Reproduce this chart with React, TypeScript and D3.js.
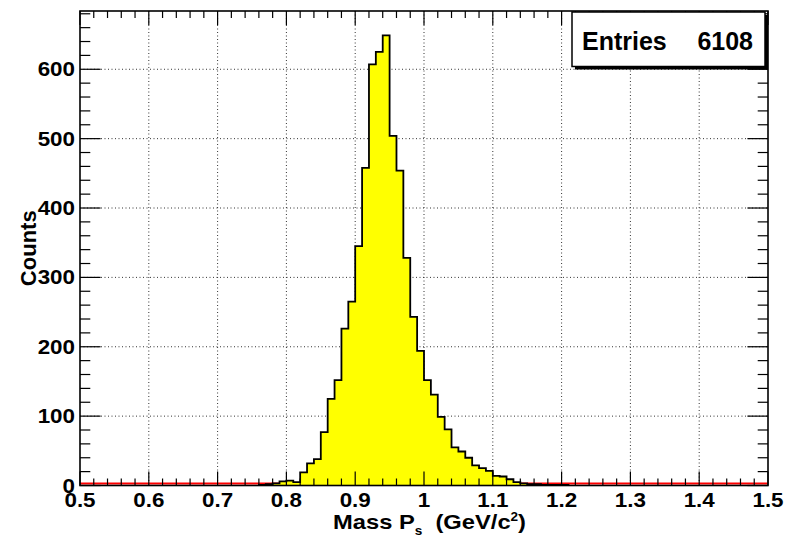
import React from "react";
import * as d3 from "d3";

// Histogram of reconstructed P_s mass, 0.01 GeV/c^2 bins
const firstBinLow = 0.76;
const binWidth = 0.01;
const counts = [
  1, 2, 3, 6, 7, 5, 19, 32, 38, 77,
  125, 152, 226, 265, 345, 458, 607, 625, 649, 504,
  454, 328, 243, 194, 152, 131, 99, 81, 55, 49,
  40, 29, 25, 21, 14, 13, 9, 5, 3, 2,
  2, 1, 1, 1, 1,
];
const entries = 6108;

const xTickValues = [0.5, 0.6, 0.7, 0.8, 0.9, 1.0, 1.1, 1.2, 1.3, 1.4, 1.5];
const yTickValues = [0, 100, 200, 300, 400, 500, 600];

const W = 796;
const H = 539;
const frame = { left: 80, right: 768, top: 11, bottom: 485.5 };
const xDomain: [number, number] = [0.5, 1.5];
const yDomain: [number, number] = [0, 684];

const font = "'Liberation Sans', Arial, Helvetica, sans-serif";
// axis text is rendered slightly wide
const wide = 1.12;

export default function App() {
  const x = d3.scaleLinear().domain(xDomain).range([frame.left, frame.right]);
  const y = d3.scaleLinear().domain(yDomain).range([frame.bottom, frame.top]);

  const pts: [number, number][] = counts.map((c, i) => [firstBinLow + i * binWidth, c]);
  const lastHi = firstBinLow + counts.length * binWidth;
  const stepPts: [number, number][] = [
    ...pts,
    [lastHi, counts[counts.length - 1]],
  ];

  const area = d3
    .area<[number, number]>()
    .x((d) => x(d[0]))
    .y0(y(0))
    .y1((d) => y(d[1]))
    .curve(d3.curveStepAfter);

  const outline = d3
    .line<[number, number]>()
    .x((d) => x(d[0]))
    .y((d) => y(d[1]))
    .curve(d3.curveStepAfter);

  const outlinePts: [number, number][] = [
    [firstBinLow, 0],
    ...stepPts,
    [lastHi, 0],
  ];

  const xMinor = d3.range(0, 51).map((i) => 0.5 + i * 0.02);
  const yMinor = d3.range(0, 35).map((i) => i * 20);

  const xMajLen = 14;
  const xMinLen = 7;
  const yMajLen = 20.6;
  const yMinLen = 10.3;

  const fmtX = (v: number) => String(+v.toFixed(1));

  const gridX = xTickValues.filter((v) => v > xDomain[0] && v < xDomain[1]);
  const gridY = yTickValues.filter((v) => v > 0);

  // stats box geometry
  const box = { x: 572, y: 12, w: 193, h: 54.5 };

  return (
    <svg width={W} height={H} style={{ position: "absolute", left: 0, top: 0 }}>
      <rect x={0} y={0} width={W} height={H} fill="#fff" />

      {/* grid */}
      <g stroke="#333" strokeWidth={1} strokeDasharray="1,2.5">
        {gridX.map((v) => (
          <line key={"gx" + v} x1={x(v)} x2={x(v)} y1={frame.top} y2={frame.bottom} />
        ))}
        {gridY.map((v) => (
          <line key={"gy" + v} x1={frame.left} x2={frame.right} y1={y(v)} y2={y(v)} />
        ))}
      </g>

      {/* zero level */}
      <line
        x1={frame.left}
        x2={frame.right}
        y1={y(0) - 2}
        y2={y(0) - 2}
        stroke="#ff0000"
        strokeWidth={2}
      />

      {/* histogram */}
      <path d={area(stepPts) ?? ""} fill="#ffff00" stroke="none" />
      <path d={outline(outlinePts) ?? ""} fill="none" stroke="#000" strokeWidth={1.8} />

      {/* ticks */}
      <g stroke="#000" strokeWidth={1.2}>
        {xMinor.map((v, i) => {
          const len = i % 5 === 0 ? xMajLen : xMinLen;
          return (
            <g key={"xt" + i}>
              <line x1={x(v)} x2={x(v)} y1={frame.bottom} y2={frame.bottom - len} />
              <line x1={x(v)} x2={x(v)} y1={frame.top} y2={frame.top + len} />
            </g>
          );
        })}
        {yMinor.map((v, i) => {
          const len = i % 5 === 0 ? yMajLen : yMinLen;
          return (
            <g key={"yt" + i}>
              <line x1={frame.left} x2={frame.left + len} y1={y(v)} y2={y(v)} />
              <line x1={frame.right} x2={frame.right - len} y1={y(v)} y2={y(v)} />
            </g>
          );
        })}
      </g>

      {/* frame */}
      <rect
        x={frame.left}
        y={frame.top}
        width={frame.right - frame.left}
        height={frame.bottom - frame.top}
        fill="none"
        stroke="#000"
        strokeWidth={1.6}
      />

      {/* tick labels */}
      <g fontFamily={font} fontWeight="bold" fontSize={20} fill="#000">
        {xTickValues.map((v) => (
          <text
            key={"xl" + v}
            transform={`translate(${x(v)}, 506.5) scale(${wide}, 1)`}
            textAnchor="middle"
          >
            {fmtX(v)}
          </text>
        ))}
        {yTickValues.map((v) => (
          <text
            key={"yl" + v}
            transform={`translate(75, ${y(v) + 7}) scale(${wide}, 1)`}
            textAnchor="end"
          >
            {v}
          </text>
        ))}
      </g>

      {/* axis titles */}
      <text
        transform={`translate(333, 528.5) scale(1.13, 1)`}
        fontFamily={font}
        fontWeight="bold"
        fontSize={21}
        fill="#000"
      >
        Mass P
        <tspan fontSize={12} dy={6}>s</tspan>
        <tspan dy={-6} xmlSpace="preserve">{"  (GeV/c"}</tspan>
        <tspan fontSize={12} dy={-8}>2</tspan>
        <tspan dy={8}>)</tspan>
      </text>
      <text
        transform={`translate(36, ${(frame.top + frame.bottom) / 2}) rotate(-90)`}
        textAnchor="middle"
        fontFamily={font}
        fontWeight="bold"
        fontSize={22}
        fill="#000"
      >
        Counts
      </text>

      {/* stats box */}
      <rect x={box.x + 3} y={box.y + 3} width={box.w} height={box.h} fill="#000" />
      <rect
        x={box.x}
        y={box.y}
        width={box.w}
        height={box.h}
        fill="#fff"
        stroke="#000"
        strokeWidth={1.5}
      />
      <g fontFamily={font} fontWeight="bold" fontSize={25} fill="#000">
        <text x={box.x + 10} y={50}>
          Entries
        </text>
        <text x={box.x + box.w - 12} y={50} textAnchor="end">
          {entries}
        </text>
      </g>
    </svg>
  );
}
